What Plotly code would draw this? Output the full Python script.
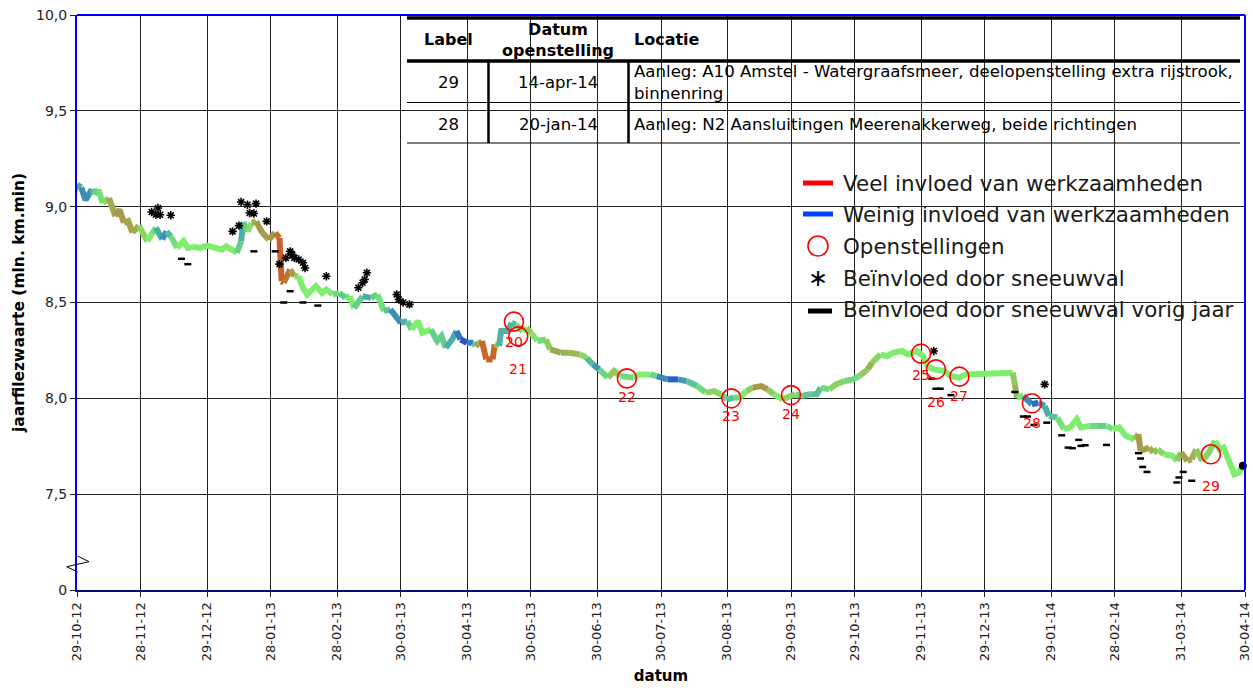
import pandas as pd
import plotly.graph_objects as go
from plotly.colors import sample_colorscale

# ---------------- DATA ----------------
START = "2012-10-29"          # dag 0
EIND = "2014-04-30"

# Jaarfilezwaarte: dag t.o.v. START, waarde (mln. km.min), invloed (-1 weinig ... +1 veel)
dag = [-2, 0, 2, 4, 7, 8, 10, 12, 15, 18, 20, 22, 24, 26, 29, 33, 35, 37, 40, 42, 44, 47, 50, 52,
       55, 58, 61, 65, 68, 70, 75, 77, 78, 80, 82, 84, 87, 90, 93, 95, 96, 97, 100, 102, 104, 106,
       108, 112, 115, 117, 120, 123, 126, 128, 130, 134, 138, 141, 144, 147, 150, 152, 155, 157,
       160, 162, 166, 169, 171, 173, 176, 178, 180, 183, 186, 187, 190, 192, 195, 196, 198, 199,
       202, 204, 206, 209, 211, 213, 216, 220, 222, 227, 231, 236, 239, 242, 245, 249, 252, 255,
       258, 261, 264, 269, 272, 277, 282, 286, 291, 295, 299, 302, 305, 308, 311, 314, 317, 321,
       324, 327, 331, 334, 337, 340, 344, 347, 349, 353, 356, 360, 364, 367, 371, 373, 377, 380,
       383, 387, 390, 394, 397, 399, 402, 407, 410, 414, 417, 425, 433, 439, 440, 441, 444, 448,
       451, 454, 456, 460, 463, 466, 469, 471, 475, 479, 483, 486, 489, 492, 496, 498, 499, 503,
       505, 507, 510, 514, 516, 518, 521, 523, 525, 528, 531, 534, 536, 538, 540, 543, 545, 547]
waarde = [9.06, 9.115, 9.10, 9.035, 9.09, 9.065, 9.09, 9.02, 9.045, 8.95, 8.985, 8.915, 8.925, 8.865,
          8.90, 8.82, 8.855, 8.89, 8.83, 8.87, 8.845, 8.785, 8.82, 8.785, 8.79, 8.785, 8.797, 8.785,
          8.776, 8.793, 8.76, 8.82, 8.92, 8.87, 8.915, 8.923, 8.863, 8.828, 8.863, 8.837, 8.611,
          8.603, 8.672, 8.637, 8.637, 8.576, 8.542, 8.585, 8.55, 8.568, 8.542, 8.55, 8.524, 8.533,
          8.472, 8.533, 8.524, 8.542, 8.455, 8.464, 8.42, 8.394, 8.403, 8.359, 8.403, 8.342, 8.359,
          8.299, 8.325, 8.264, 8.307, 8.351, 8.307, 8.29, 8.29, 8.273, 8.299, 8.203, 8.203, 8.281,
          8.273, 8.351, 8.351, 8.394, 8.385, 8.351, 8.368, 8.342, 8.299, 8.307, 8.255, 8.238, 8.238,
          8.229, 8.212, 8.177, 8.151, 8.108, 8.142, 8.116, 8.108, 8.108, 8.125, 8.125, 8.116, 8.099,
          8.099, 8.09, 8.064, 8.03, 8.038, 8.021, 7.995, 8.004, 8.004, 8.038, 8.056, 8.064, 8.047,
          8.021, 7.995, 8.012, 8.021, 8.012, 8.021, 8.021, 8.056, 8.047, 8.073, 8.09, 8.099, 8.116,
          8.151, 8.186, 8.229, 8.22, 8.238, 8.247, 8.229, 8.247, 8.22, 8.168, 8.151, 8.142, 8.116,
          8.108, 8.125, 8.13, 8.134, 8.134, 8.073, 8.004, 8.012, 7.969, 7.977, 7.96, 7.908, 7.90,
          7.839, 7.848, 7.891, 7.848, 7.856, 7.856, 7.856, 7.839, 7.848, 7.804, 7.786, 7.813, 7.726,
          7.743, 7.717, 7.734, 7.708, 7.70, 7.674, 7.717, 7.674, 7.682, 7.734, 7.674, 7.717, 7.778,
          7.734, 7.743, 7.691, 7.604, 7.613, 7.648]
invloed = [0, -0.5, -0.5, -0.8, -0.5, -0.3, -0.2, 0, 0.3, 0.5, 0.5, 0.5, 0.4, 0.5, 0.3, 0, 0, -0.2,
           -0.8, -0.5, -0.3, 0, 0, 0, 0, 0, 0, 0, 0, 0, 0, -0.5, -0.5, 0, 0.2, 0.5, 0.5, 0.4, 0.6, 0.9,
           0.9, 0.8, 0.7, 0.3, 0, 0, 0, 0, 0, 0, 0, -0.3, -0.3, 0, 0, -0.5, -0.5, 0, -0.2, -0.5, -0.8,
           -0.5, -0.5, 0, 0, 0, 0, -0.5, 0, -0.5, -0.5, -0.5, -1, -0.8, -0.6, 0, 0.8, 0.9, 0.9, 0.8,
           -0.4, -0.5, -0.4, -0.5, -0.3, 0, 0, 0.4, -0.3, 0, 0.4, 0.4, 0.3, 0.3, 0, -0.8, -0.4, 0,
           0.4, 0, -0.3, 0, 0, 0, -0.4, -0.9, -0.8, -0.4, -0.3, 0, 0.3, 0, -0.4, -0.3, 0, 0, 0.4, 0.6,
           0.4, 0, 0, 0.3, 0, -0.3, -0.3, -0.4, -0.3, 0, 0.3, 0, -0.3, 0, 0.4, 0.3, 0, 0, 0, 0, 0, 0,
           0, 0, 0, 0, 0, 0, 0, 0, 0, 0, 0.4, 0.3, -0.4, -0.9, -0.7, -0.5, -0.5, -0.2, 0, 0, 0, 0, 0,
           -0.3, -0.2, 0, 0, 0, 0, 0.5, 0.5, 0.4, 0.3, 0.3, 0, 0, 0, 0.4, 0.5, 0.3, 0.4, 0, 0.3, 0, 0,
           0, 0, 0, 0, 0]

# Openstellingen
open_label = ["20", "21", "22", "23", "24", "25", "26", "27", "28", "29"]
open_datum = ["2013-05-22", "2013-05-24", "2013-07-14", "2013-09-01", "2013-09-29",
              "2013-11-29", "2013-12-06", "2013-12-17", "2014-01-20", "2014-04-14"]
open_waarde = [8.40, 8.323, 8.104, 8.00, 8.017, 8.233, 8.151, 8.113, 7.974, 7.708]

# Beinvloed door sneeuwval
sneeuw_dag = [35, 37, 38, 39, 44, 73, 76, 77, 80, 81, 83, 84, 89, 95, 98, 100, 101, 102, 104, 106,
              107, 117, 132, 134, 135, 136, 150, 151, 153, 156, 402, 454]
sneeuw_waarde = [8.972, 8.958, 8.993, 8.958, 8.955, 8.871, 8.901, 9.024, 9.01, 8.967, 8.964, 9.016,
                 8.923, 8.70, 8.733, 8.767, 8.75, 8.733, 8.724, 8.707, 8.68, 8.637, 8.577, 8.603,
                 8.62, 8.655, 8.542, 8.516, 8.50, 8.49, 8.247, 8.073]

# Beinvloed door sneeuwval vorig jaar
vorig_dag = [49, 52, 83, 93, 97, 100, 106, 113, 401, 403, 405, 410, 440, 444, 446, 449, 455, 462,
             465, 467, 470, 471, 473, 483, 498, 499, 500, 502, 516, 517, 519, 523]
vorig_waarde = [8.728, 8.70, 8.767, 8.767, 8.50, 8.559, 8.50, 8.484, 8.103, 8.05, 8.05, 8.017,
                8.033, 7.905, 7.905, 7.861, 7.873, 7.807, 7.743, 7.74, 7.783, 7.752, 7.755, 7.757,
                7.714, 7.686, 7.642, 7.616, 7.561, 7.587, 7.616, 7.57]

# As-labels
x_ticklabels = ["29-10-12", "28-11-12", "29-12-12", "28-01-13", "28-02-13", "30-03-13", "30-04-13",
                "30-05-13", "30-06-13", "30-07-13", "30-08-13", "29-09-13", "29-10-13", "29-11-13",
                "29-12-13", "29-01-14", "28-02-14", "31-03-14", "30-04-14"]
y_tickvals = [7.0, 7.5, 8.0, 8.5, 9.0, 9.5, 10.0]
y_ticklabels = ["0", "7,5", "8,0", "8,5", "9,0", "9,5", "10,0"]

# Tabel
tabel_kop = ["Label", "Datum<br>openstelling", "Locatie"]
tabel_rijen = [
    ["29", "14-apr-14", "Aanleg: A10 Amstel - Watergraafsmeer, deelopenstelling extra rijstrook,<br>binnenring"],
    ["28", "20-jan-14", "Aanleg: N2 Aansluitingen Meerenakkerweg, beide richtingen"],
]
legenda = ["Veel invloed van werkzaamheden", "Weinig invloed van werkzaamheden", "Openstellingen",
           "Beïnvloed door sneeuwval", "Beïnvloed door sneeuwval vorig jaar"]

# ---------------- STYLE ----------------
FONT = "DejaVu Sans"
CSCALE = [[0.0, "#1E3CDC"], [0.25, "#4AAFA6"], [0.5, "#7FEE6E"], [0.75, "#A8984A"], [1.0, "#D6501E"]]
W, H = 1253, 692
L, R, T, B = 77, 1245, 15, 590
label_shift = {"20": 20, "21": 33, "22": 19, "23": 18, "24": 19, "25": 21, "26": 33, "27": 19, "28": 20, "29": 32}


def px(x):
    return (x - L) / (R - L)


def py(y):
    return (B - y) / (B - T)


start = pd.Timestamp(START)
datums = start + pd.to_timedelta(dag, unit="D")
sneeuw_datums = start + pd.to_timedelta(sneeuw_dag, unit="D")
vorig_datums = start + pd.to_timedelta(vorig_dag, unit="D")
tick_datums = pd.to_datetime(x_ticklabels, format="%d-%m-%y")

fig = go.Figure()

# colored line in segments
n = len(dag)
tnorm = [(c + 1) / 2 for c in invloed]
seg_cols = sample_colorscale(CSCALE, [(tnorm[i] + tnorm[i + 1]) / 2 for i in range(n - 1)])
runs = []
s = 0
for i in range(1, n - 1):
    if seg_cols[i] != seg_cols[s]:
        runs.append((s, i))
        s = i
runs.append((s, n - 1))
for s, e in runs:
    fig.add_trace(go.Scatter(x=datums[s:e + 1], y=waarde[s:e + 1], mode="lines",
                             line=dict(color=seg_cols[s], width=6), hoverinfo="skip",
                             showlegend=False))

# end dot
fig.add_trace(go.Scatter(x=[datums[-1]], y=[waarde[-1]], mode="markers",
                         marker=dict(color="black", size=8), showlegend=False, cliponaxis=False))

# snow previous year
fig.add_trace(go.Scatter(x=vorig_datums, y=vorig_waarde, mode="markers",
                         marker=dict(symbol="line-ew", size=5, line=dict(color="black", width=2.5)),
                         showlegend=False))
# snow
fig.add_trace(go.Scatter(x=sneeuw_datums, y=sneeuw_waarde, mode="markers",
                         marker=dict(symbol="asterisk", size=7, line=dict(color="black", width=1.6)),
                         showlegend=False))
# openings
fig.add_trace(go.Scatter(x=pd.to_datetime(open_datum), y=open_waarde, mode="markers",
                         marker=dict(symbol="circle-open", size=19, color="#FF0000",
                                     line=dict(color="#FF0000", width=1.6)),
                         showlegend=False))
for lab, d, v in zip(open_label, open_datum, open_waarde):
    fig.add_annotation(x=d, y=v, text=lab, showarrow=False, yshift=-label_shift[lab],
                       font=dict(color="#FF0000", size=14, family=FONT))

shapes = []
# frame top/right
shapes.append(dict(type="line", xref="paper", yref="paper", x0=0, x1=1, y0=1, y1=1,
                   line=dict(color="#0000FF", width=2), layer="above"))
shapes.append(dict(type="line", xref="paper", yref="paper", x0=1, x1=1, y0=0, y1=1,
                   line=dict(color="#0000FF", width=2), layer="above"))

# table background + lines
shapes.append(dict(type="rect", xref="paper", yref="paper", x0=px(407), x1=px(1242), y0=py(145), y1=py(16),
                   fillcolor="white", line=dict(width=0), layer="between"))
for yy, wdt in [(18, 3.5), (61, 3.5), (102.5, 1), (143, 1)]:
    shapes.append(dict(type="line", xref="paper", yref="paper", x0=px(407), x1=px(1240), y0=py(yy), y1=py(yy),
                       line=dict(color="black", width=wdt), layer="above"))
for xx in [488.5, 628.5]:
    shapes.append(dict(type="line", xref="paper", yref="paper", x0=px(xx), x1=px(xx), y0=py(61), y1=py(143),
                       line=dict(color="black", width=2.5), layer="above"))

# legend background
shapes.append(dict(type="rect", xref="paper", yref="paper", x0=px(838), x1=px(1242), y0=py(331), y1=py(161),
                   fillcolor="white", line=dict(width=0), layer="between"))
leg_y = [183, 214, 246, 278, 310]
shapes.append(dict(type="line", xref="paper", yref="paper", x0=px(803), x1=px(833), y0=py(leg_y[0]), y1=py(leg_y[0]),
                   line=dict(color="#FF0000", width=5), layer="above"))
shapes.append(dict(type="line", xref="paper", yref="paper", x0=px(803), x1=px(833), y0=py(leg_y[1]), y1=py(leg_y[1]),
                   line=dict(color="#0040FF", width=5), layer="above"))
shapes.append(dict(type="circle", xref="paper", yref="paper", x0=px(808), x1=px(828), y0=py(leg_y[2] + 10),
                   y1=py(leg_y[2] - 10), line=dict(color="#FF0000", width=1.6), layer="above"))
shapes.append(dict(type="line", xref="paper", yref="paper", x0=px(808), x1=px(832), y0=py(leg_y[4] + 1), y1=py(leg_y[4] + 1),
                   line=dict(color="black", width=5), layer="above"))

# axis break symbol
brk = [(77.7, 556), (89, 561.7), (66.7, 566.7), (77.7, 572)]
path = "M " + " L ".join(f"{px(a)},{py(b)}" for a, b in brk)
shapes.append(dict(type="path", xref="paper", yref="paper", path=path,
                   line=dict(color="black", width=1), layer="above"))

fig.update_layout(shapes=shapes)

# table texts
kol_x = [448, 558, 632]
kol_size = [16.5, 16.5, 16.6]
for j, k in enumerate(tabel_kop):
    fig.add_annotation(xref="paper", yref="paper", x=px(kol_x[j]), y=py(40), text=f"<b>{k}</b>",
                       showarrow=False, xanchor="center" if j < 2 else "left", yanchor="middle",
                       font=dict(size=16, family=FONT, color="black"), align="center")
rij_y = [82.5, 124.5]
for r, rij in enumerate(tabel_rijen):
    for j, cel in enumerate(rij):
        fig.add_annotation(xref="paper", yref="paper", x=px(kol_x[j]), y=py(rij_y[r]), text=cel,
                           showarrow=False, xanchor="center" if j < 2 else "left", yanchor="middle",
                           font=dict(size=kol_size[j], family=FONT, color="black"), align="left")

# legend texts
fig.add_annotation(xref="paper", yref="paper", x=px(818), y=py(leg_y[3]), text="∗", showarrow=False,
                   xanchor="center", yanchor="middle", font=dict(size=24, family=FONT, color="black"))
for t, yy in zip(legenda, leg_y):
    fig.add_annotation(xref="paper", yref="paper", x=px(841), y=py(yy), text=t, showarrow=False,
                       xanchor="left", yanchor="middle", font=dict(size=21.4, family=FONT, color="#1a1a1a"))

fig.update_layout(
    width=W, height=H, autosize=False,
    margin=dict(l=L, r=W - R, t=T, b=H - B, pad=0),
    paper_bgcolor="white", plot_bgcolor="white",
    font=dict(family=FONT, color="#222"),
    showlegend=False,
)
fig.update_xaxes(
    type="date", range=[pd.Timestamp(START), pd.Timestamp(EIND)], automargin=False,
    tickvals=tick_datums, ticktext=x_ticklabels, tickangle=-90,
    tickfont=dict(size=13, family=FONT, color="#222"),
    showgrid=True, gridcolor="#222", gridwidth=1, zeroline=False,
    showline=True, linecolor="#0A0A80", linewidth=2,
    ticks="outside", ticklen=5, tickcolor="#222",
    title=dict(text="<b>datum</b>", font=dict(size=15, family=FONT, color="black"), standoff=10),
)
fig.update_yaxes(
    range=[7.0, 10.0], tickvals=y_tickvals, ticktext=y_ticklabels, automargin=False,
    tickfont=dict(size=14, family=FONT, color="#222"),
    showgrid=True, gridcolor="#222", gridwidth=1, zeroline=False,
    showline=True, linecolor="#0000FF", linewidth=2,
    ticks="outside", ticklen=5, tickcolor="#222",
    title=dict(text="<b>jaarfilezwaarte (mln. km.min)</b>", font=dict(size=15.5, family=FONT, color="black"),
               standoff=8),
)

fig.write_html("out.html", config={"displayModeBar": False},
               post_script="document.body.style.margin='0';document.body.style.overflow='hidden';")
